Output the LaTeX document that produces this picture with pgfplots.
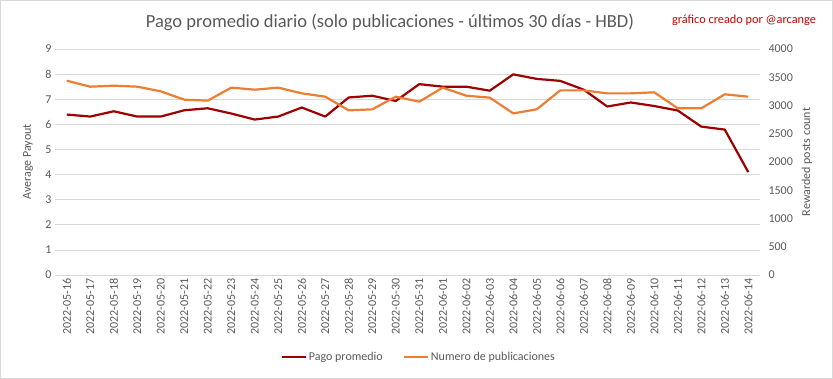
\documentclass[border=0pt]{standalone}
\usepackage{pgfplots}
\pgfplotsset{compat=1.18}
\usepackage{fontspec}
\setmainfont{Carlito}
\definecolor{txt}{RGB}{89,89,89}
\definecolor{gridc}{RGB}{217,217,217}
\definecolor{darkred}{RGB}{158,0,0}
\definecolor{orangec}{RGB}{237,125,49}
\definecolor{redtxt}{RGB}{200,0,0}
\pgfplotsset{
  common/.style={
    scale only axis, width=705pt, height=226pt,
    xmin=-0.5, xmax=29.5,
    major tick length=0pt,
    tick label style={font=\fontsize{12}{14}\selectfont, text=txt},
    label style={font=\fontsize{12}{14}\selectfont, text=txt},
    /pgf/number format/assume math mode=true,
  }
}
\begin{document}
\begin{tikzpicture}
\useasboundingbox (-55pt,-104pt) rectangle (778pt,275pt);
\begin{axis}[common,
  ymin=0, ymax=9, ytick={0,1,...,9},
  ymajorgrids, grid style={gridc, line width=0.75pt},
  axis y line*=left, axis x line*=bottom,
  y axis line style={draw=none},
  x axis line style={gridc, line width=0.75pt, -},
  xtick={0,...,29},
  xticklabels={2022-05-16,2022-05-17,2022-05-18,2022-05-19,2022-05-20,2022-05-21,2022-05-22,2022-05-23,2022-05-24,2022-05-25,2022-05-26,2022-05-27,2022-05-28,2022-05-29,2022-05-30,2022-05-31,2022-06-01,2022-06-02,2022-06-03,2022-06-04,2022-06-05,2022-06-06,2022-06-07,2022-06-08,2022-06-09,2022-06-10,2022-06-11,2022-06-12,2022-06-13,2022-06-14},
  x tick label style={rotate=90, anchor=east},
  ylabel={Average Payout},
  ylabel style={at={([xshift=-27pt]axis description cs:0,0.5)}, anchor=center},
]
\addplot[darkred, line width=2.2pt, line join=round] coordinates {
(0,6.39)(1,6.31)(2,6.52)(3,6.31)(4,6.31)(5,6.56)(6,6.64)(7,6.43)(8,6.19)(9,6.31)
(10,6.67)(11,6.31)(12,7.07)(13,7.14)(14,6.93)(15,7.60)(16,7.50)(17,7.50)(18,7.34)(19,7.99)
(20,7.81)(21,7.73)(22,7.38)(23,6.71)(24,6.87)(25,6.73)(26,6.55)(27,5.91)(28,5.79)(29,4.10)};
\end{axis}
\begin{axis}[common,
  ymin=0, ymax=4000, ytick={0,500,...,4000},
  axis y line*=right, axis x line=none,
  y axis line style={draw=none},
  scaled y ticks=false,
  yticklabel style={/pgf/number format/set thousands separator={}, xshift=5pt},
  ylabel={Rewarded posts count},
  ylabel style={at={([xshift=47pt]axis description cs:1,0.5)}, anchor=center},
  legend columns=2,
  legend style={at={(0.516,-0.363)}, anchor=center, draw=none, fill=none,
    font=\fontsize{12}{14}\selectfont, text=txt,
    /tikz/every even column/.append style={column sep=18pt}},
  legend image code/.code={\draw[#1] (0pt,0pt) -- (24pt,0pt);},
]
\addlegendimage{darkred, line width=2.2pt}
\addlegendentry{Pago promedio}
\addplot[orangec, line width=2.2pt, line join=round] coordinates {
(0,3439)(1,3333)(2,3351)(3,3333)(4,3251)(5,3103)(6,3086)(7,3316)(8,3280)(9,3316)
(10,3215)(11,3156)(12,2914)(13,2932)(14,3156)(15,3068)(16,3316)(17,3174)(18,3139)(19,2861)
(20,2932)(21,3268)(22,3268)(23,3215)(24,3215)(25,3233)(26,2950)(27,2950)(28,3198)(29,3156)};
\addlegendentry{Numero de publicaciones}
\end{axis}
\node[font=\fontsize{18.5}{21}\selectfont, text=txt] at (335pt,253pt) {Pago promedio diario (solo publicaciones - últimos 30 días - HBD)};
\node[font=\fontsize{12.3}{14}\selectfont, text=redtxt] at (689pt,255pt) {gráfico creado por @arcange};
\draw[gridc, line width=0.75pt] (-54.6pt,-103.6pt) rectangle (777.6pt,274.6pt);
\end{tikzpicture}
\end{document}
